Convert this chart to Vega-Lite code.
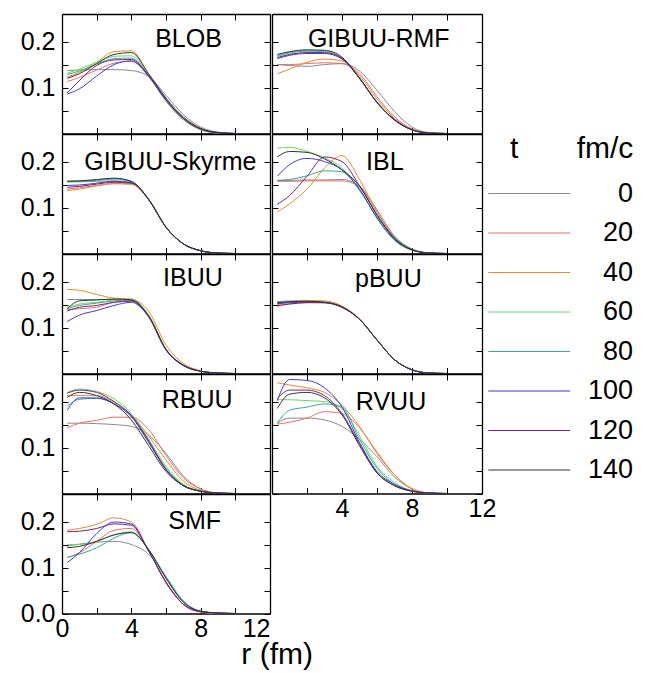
{
"$schema": "https://vega.github.io/schema/vega-lite/v6.json",
"padding": {"left": 20, "top": 13, "right": 0, "bottom": 0},
"title": {"text": "r (fm)", "orient": "bottom", "anchor": "middle", "fontSize": 30, "fontWeight": "normal", "font": "Liberation Sans", "color": "#000", "dx": -50, "offset": -2},
"config": {
 "font": "Liberation Sans",
 "view": {"stroke": null},
 "axis": {"grid": false, "domainColor": "#000", "domainWidth": 1.3, "tickColor": "#000", "tickWidth": 1, "tickSize": -6, "labelFontSize": 25, "labelColor": "#000", "labelFont": "Liberation Sans", "labelFlush": false, "labelOverlap": false, "labelPadding": 13},
 "line": {"strokeWidth": 1, "interpolate": "monotone"},
 "legend": {"orient": "none", "legendX": 423, "legendY": 120, "titleFontSize": 30, "titleFontWeight": "normal", "titleColor": "#000", "titleFont": "Liberation Sans", "labelFontSize": 27, "labelColor": "#000", "labelFont": "Liberation Sans", "labelAlign": "right", "labelOffset": 121, "symbolType": "M-1,0H7", "symbolSize": 420, "symbolStrokeWidth": 1.5, "rowPadding": 11.5, "titlePadding": 16, "padding": 0}
},
"datasets": {"curves": [
{"m":"BLOB","t":0,"r":0.3,"d":0.137},{"m":"BLOB","t":0,"r":1,"d":0.138},{"m":"BLOB","t":0,"r":2,"d":0.139},{"m":"BLOB","t":0,"r":3,"d":0.139},{"m":"BLOB","t":0,"r":4,"d":0.137},{"m":"BLOB","t":0,"r":5,"d":0.124},{"m":"BLOB","t":0,"r":6,"d":0.083},{"m":"BLOB","t":0,"r":7,"d":0.041},{"m":"BLOB","t":0,"r":8,"d":0.014},{"m":"BLOB","t":0,"r":9,"d":0.003},{"m":"BLOB","t":0,"r":10,"d":0},
{"m":"BLOB","t":20,"r":0.3,"d":0.113},{"m":"BLOB","t":20,"r":1,"d":0.122},{"m":"BLOB","t":20,"r":2,"d":0.138},{"m":"BLOB","t":20,"r":3,"d":0.153},{"m":"BLOB","t":20,"r":4,"d":0.157},{"m":"BLOB","t":20,"r":5,"d":0.127},{"m":"BLOB","t":20,"r":6,"d":0.074},{"m":"BLOB","t":20,"r":7,"d":0.033},{"m":"BLOB","t":20,"r":8,"d":0.010},{"m":"BLOB","t":20,"r":9,"d":0.002},{"m":"BLOB","t":20,"r":10,"d":0},
{"m":"BLOB","t":40,"r":0.3,"d":0.123},{"m":"BLOB","t":40,"r":1,"d":0.133},{"m":"BLOB","t":40,"r":2,"d":0.155},{"m":"BLOB","t":40,"r":3,"d":0.178},{"m":"BLOB","t":40,"r":4,"d":0.180},{"m":"BLOB","t":40,"r":5,"d":0.128},{"m":"BLOB","t":40,"r":6,"d":0.070},{"m":"BLOB","t":40,"r":7,"d":0.030},{"m":"BLOB","t":40,"r":8,"d":0.008},{"m":"BLOB","t":40,"r":9,"d":0.001},{"m":"BLOB","t":40,"r":10,"d":0},
{"m":"BLOB","t":60,"r":0.3,"d":0.131},{"m":"BLOB","t":60,"r":1,"d":0.140},{"m":"BLOB","t":60,"r":2,"d":0.155},{"m":"BLOB","t":60,"r":3,"d":0.168},{"m":"BLOB","t":60,"r":4,"d":0.169},{"m":"BLOB","t":60,"r":5,"d":0.126},{"m":"BLOB","t":60,"r":6,"d":0.071},{"m":"BLOB","t":60,"r":7,"d":0.031},{"m":"BLOB","t":60,"r":8,"d":0.009},{"m":"BLOB","t":60,"r":9,"d":0.001},{"m":"BLOB","t":60,"r":10,"d":0},
{"m":"BLOB","t":80,"r":0.3,"d":0.128},{"m":"BLOB","t":80,"r":1,"d":0.136},{"m":"BLOB","t":80,"r":2,"d":0.151},{"m":"BLOB","t":80,"r":3,"d":0.163},{"m":"BLOB","t":80,"r":4,"d":0.164},{"m":"BLOB","t":80,"r":5,"d":0.125},{"m":"BLOB","t":80,"r":6,"d":0.072},{"m":"BLOB","t":80,"r":7,"d":0.032},{"m":"BLOB","t":80,"r":8,"d":0.009},{"m":"BLOB","t":80,"r":9,"d":0.001},{"m":"BLOB","t":80,"r":10,"d":0},
{"m":"BLOB","t":100,"r":0.3,"d":0.086},{"m":"BLOB","t":100,"r":1,"d":0.097},{"m":"BLOB","t":100,"r":2,"d":0.125},{"m":"BLOB","t":100,"r":3,"d":0.150},{"m":"BLOB","t":100,"r":4,"d":0.158},{"m":"BLOB","t":100,"r":5,"d":0.124},{"m":"BLOB","t":100,"r":6,"d":0.073},{"m":"BLOB","t":100,"r":7,"d":0.033},{"m":"BLOB","t":100,"r":8,"d":0.010},{"m":"BLOB","t":100,"r":9,"d":0.002},{"m":"BLOB","t":100,"r":10,"d":0},
{"m":"BLOB","t":120,"r":0.3,"d":0.088},{"m":"BLOB","t":120,"r":1,"d":0.115},{"m":"BLOB","t":120,"r":2,"d":0.148},{"m":"BLOB","t":120,"r":3,"d":0.160},{"m":"BLOB","t":120,"r":4,"d":0.161},{"m":"BLOB","t":120,"r":5,"d":0.126},{"m":"BLOB","t":120,"r":6,"d":0.074},{"m":"BLOB","t":120,"r":7,"d":0.033},{"m":"BLOB","t":120,"r":8,"d":0.010},{"m":"BLOB","t":120,"r":9,"d":0.002},{"m":"BLOB","t":120,"r":10,"d":0},
{"m":"BLOB","t":140,"r":0.3,"d":0.120},{"m":"BLOB","t":140,"r":1,"d":0.130},{"m":"BLOB","t":140,"r":2,"d":0.152},{"m":"BLOB","t":140,"r":3,"d":0.172},{"m":"BLOB","t":140,"r":4,"d":0.176},{"m":"BLOB","t":140,"r":5,"d":0.130},{"m":"BLOB","t":140,"r":6,"d":0.077},{"m":"BLOB","t":140,"r":7,"d":0.036},{"m":"BLOB","t":140,"r":8,"d":0.011},{"m":"BLOB","t":140,"r":9,"d":0.002},{"m":"BLOB","t":140,"r":10,"d":0},
{"m":"GIBUU-RMF","t":0,"r":0.3,"d":0.150},{"m":"GIBUU-RMF","t":0,"r":1,"d":0.148},{"m":"GIBUU-RMF","t":0,"r":2,"d":0.146},{"m":"GIBUU-RMF","t":0,"r":3,"d":0.150},{"m":"GIBUU-RMF","t":0,"r":4,"d":0.152},{"m":"GIBUU-RMF","t":0,"r":5,"d":0.136},{"m":"GIBUU-RMF","t":0,"r":6,"d":0.094},{"m":"GIBUU-RMF","t":0,"r":7,"d":0.048},{"m":"GIBUU-RMF","t":0,"r":8,"d":0.014},{"m":"GIBUU-RMF","t":0,"r":9,"d":0.002},{"m":"GIBUU-RMF","t":0,"r":10,"d":0},
{"m":"GIBUU-RMF","t":20,"r":0.3,"d":0.150},{"m":"GIBUU-RMF","t":20,"r":1,"d":0.150},{"m":"GIBUU-RMF","t":20,"r":2,"d":0.152},{"m":"GIBUU-RMF","t":20,"r":3,"d":0.154},{"m":"GIBUU-RMF","t":20,"r":4,"d":0.152},{"m":"GIBUU-RMF","t":20,"r":5,"d":0.130},{"m":"GIBUU-RMF","t":20,"r":6,"d":0.080},{"m":"GIBUU-RMF","t":20,"r":7,"d":0.036},{"m":"GIBUU-RMF","t":20,"r":8,"d":0.010},{"m":"GIBUU-RMF","t":20,"r":9,"d":0.001},{"m":"GIBUU-RMF","t":20,"r":10,"d":0},
{"m":"GIBUU-RMF","t":40,"r":0.3,"d":0.130},{"m":"GIBUU-RMF","t":40,"r":1,"d":0.140},{"m":"GIBUU-RMF","t":40,"r":2,"d":0.155},{"m":"GIBUU-RMF","t":40,"r":3,"d":0.162},{"m":"GIBUU-RMF","t":40,"r":4,"d":0.158},{"m":"GIBUU-RMF","t":40,"r":5,"d":0.126},{"m":"GIBUU-RMF","t":40,"r":6,"d":0.075},{"m":"GIBUU-RMF","t":40,"r":7,"d":0.033},{"m":"GIBUU-RMF","t":40,"r":8,"d":0.009},{"m":"GIBUU-RMF","t":40,"r":9,"d":0.001},{"m":"GIBUU-RMF","t":40,"r":10,"d":0},
{"m":"GIBUU-RMF","t":60,"r":0.3,"d":0.170},{"m":"GIBUU-RMF","t":60,"r":1,"d":0.177},{"m":"GIBUU-RMF","t":60,"r":2,"d":0.181},{"m":"GIBUU-RMF","t":60,"r":3,"d":0.180},{"m":"GIBUU-RMF","t":60,"r":4,"d":0.165},{"m":"GIBUU-RMF","t":60,"r":5,"d":0.120},{"m":"GIBUU-RMF","t":60,"r":6,"d":0.068},{"m":"GIBUU-RMF","t":60,"r":7,"d":0.030},{"m":"GIBUU-RMF","t":60,"r":8,"d":0.008},{"m":"GIBUU-RMF","t":60,"r":9,"d":0.001},{"m":"GIBUU-RMF","t":60,"r":10,"d":0},
{"m":"GIBUU-RMF","t":80,"r":0.3,"d":0.168},{"m":"GIBUU-RMF","t":80,"r":1,"d":0.175},{"m":"GIBUU-RMF","t":80,"r":2,"d":0.179},{"m":"GIBUU-RMF","t":80,"r":3,"d":0.178},{"m":"GIBUU-RMF","t":80,"r":4,"d":0.163},{"m":"GIBUU-RMF","t":80,"r":5,"d":0.120},{"m":"GIBUU-RMF","t":80,"r":6,"d":0.068},{"m":"GIBUU-RMF","t":80,"r":7,"d":0.030},{"m":"GIBUU-RMF","t":80,"r":8,"d":0.008},{"m":"GIBUU-RMF","t":80,"r":9,"d":0.001},{"m":"GIBUU-RMF","t":80,"r":10,"d":0},
{"m":"GIBUU-RMF","t":100,"r":0.3,"d":0.163},{"m":"GIBUU-RMF","t":100,"r":1,"d":0.170},{"m":"GIBUU-RMF","t":100,"r":2,"d":0.174},{"m":"GIBUU-RMF","t":100,"r":3,"d":0.174},{"m":"GIBUU-RMF","t":100,"r":4,"d":0.162},{"m":"GIBUU-RMF","t":100,"r":5,"d":0.120},{"m":"GIBUU-RMF","t":100,"r":6,"d":0.068},{"m":"GIBUU-RMF","t":100,"r":7,"d":0.030},{"m":"GIBUU-RMF","t":100,"r":8,"d":0.008},{"m":"GIBUU-RMF","t":100,"r":9,"d":0.001},{"m":"GIBUU-RMF","t":100,"r":10,"d":0},
{"m":"GIBUU-RMF","t":120,"r":0.3,"d":0.165},{"m":"GIBUU-RMF","t":120,"r":1,"d":0.172},{"m":"GIBUU-RMF","t":120,"r":2,"d":0.176},{"m":"GIBUU-RMF","t":120,"r":3,"d":0.176},{"m":"GIBUU-RMF","t":120,"r":4,"d":0.163},{"m":"GIBUU-RMF","t":120,"r":5,"d":0.120},{"m":"GIBUU-RMF","t":120,"r":6,"d":0.068},{"m":"GIBUU-RMF","t":120,"r":7,"d":0.030},{"m":"GIBUU-RMF","t":120,"r":8,"d":0.008},{"m":"GIBUU-RMF","t":120,"r":9,"d":0.001},{"m":"GIBUU-RMF","t":120,"r":10,"d":0},
{"m":"GIBUU-RMF","t":140,"r":0.3,"d":0.172},{"m":"GIBUU-RMF","t":140,"r":1,"d":0.178},{"m":"GIBUU-RMF","t":140,"r":2,"d":0.182},{"m":"GIBUU-RMF","t":140,"r":3,"d":0.181},{"m":"GIBUU-RMF","t":140,"r":4,"d":0.166},{"m":"GIBUU-RMF","t":140,"r":5,"d":0.121},{"m":"GIBUU-RMF","t":140,"r":6,"d":0.067},{"m":"GIBUU-RMF","t":140,"r":7,"d":0.029},{"m":"GIBUU-RMF","t":140,"r":8,"d":0.008},{"m":"GIBUU-RMF","t":140,"r":9,"d":0.001},{"m":"GIBUU-RMF","t":140,"r":10,"d":0},
{"m":"GIBUU-Skyrme","t":0,"r":0.3,"d":0.156},{"m":"GIBUU-Skyrme","t":0,"r":1,"d":0.156},{"m":"GIBUU-Skyrme","t":0,"r":2,"d":0.157},{"m":"GIBUU-Skyrme","t":0,"r":3,"d":0.158},{"m":"GIBUU-Skyrme","t":0,"r":4,"d":0.155},{"m":"GIBUU-Skyrme","t":0,"r":5,"d":0.118},{"m":"GIBUU-Skyrme","t":0,"r":6,"d":0.057},{"m":"GIBUU-Skyrme","t":0,"r":7,"d":0.021},{"m":"GIBUU-Skyrme","t":0,"r":8,"d":0.006},{"m":"GIBUU-Skyrme","t":0,"r":9,"d":0.001},{"m":"GIBUU-Skyrme","t":0,"r":10,"d":0},
{"m":"GIBUU-Skyrme","t":20,"r":0.3,"d":0.140},{"m":"GIBUU-Skyrme","t":20,"r":1,"d":0.143},{"m":"GIBUU-Skyrme","t":20,"r":2,"d":0.148},{"m":"GIBUU-Skyrme","t":20,"r":3,"d":0.152},{"m":"GIBUU-Skyrme","t":20,"r":4,"d":0.151},{"m":"GIBUU-Skyrme","t":20,"r":5,"d":0.117},{"m":"GIBUU-Skyrme","t":20,"r":6,"d":0.057},{"m":"GIBUU-Skyrme","t":20,"r":7,"d":0.021},{"m":"GIBUU-Skyrme","t":20,"r":8,"d":0.006},{"m":"GIBUU-Skyrme","t":20,"r":9,"d":0.001},{"m":"GIBUU-Skyrme","t":20,"r":10,"d":0},
{"m":"GIBUU-Skyrme","t":40,"r":0.3,"d":0.137},{"m":"GIBUU-Skyrme","t":40,"r":1,"d":0.140},{"m":"GIBUU-Skyrme","t":40,"r":2,"d":0.147},{"m":"GIBUU-Skyrme","t":40,"r":3,"d":0.152},{"m":"GIBUU-Skyrme","t":40,"r":4,"d":0.151},{"m":"GIBUU-Skyrme","t":40,"r":5,"d":0.118},{"m":"GIBUU-Skyrme","t":40,"r":6,"d":0.058},{"m":"GIBUU-Skyrme","t":40,"r":7,"d":0.021},{"m":"GIBUU-Skyrme","t":40,"r":8,"d":0.006},{"m":"GIBUU-Skyrme","t":40,"r":9,"d":0.001},{"m":"GIBUU-Skyrme","t":40,"r":10,"d":0},
{"m":"GIBUU-Skyrme","t":60,"r":0.3,"d":0.158},{"m":"GIBUU-Skyrme","t":60,"r":1,"d":0.158},{"m":"GIBUU-Skyrme","t":60,"r":2,"d":0.160},{"m":"GIBUU-Skyrme","t":60,"r":3,"d":0.163},{"m":"GIBUU-Skyrme","t":60,"r":4,"d":0.157},{"m":"GIBUU-Skyrme","t":60,"r":5,"d":0.118},{"m":"GIBUU-Skyrme","t":60,"r":6,"d":0.057},{"m":"GIBUU-Skyrme","t":60,"r":7,"d":0.021},{"m":"GIBUU-Skyrme","t":60,"r":8,"d":0.006},{"m":"GIBUU-Skyrme","t":60,"r":9,"d":0.001},{"m":"GIBUU-Skyrme","t":60,"r":10,"d":0},
{"m":"GIBUU-Skyrme","t":80,"r":0.3,"d":0.156},{"m":"GIBUU-Skyrme","t":80,"r":1,"d":0.157},{"m":"GIBUU-Skyrme","t":80,"r":2,"d":0.159},{"m":"GIBUU-Skyrme","t":80,"r":3,"d":0.162},{"m":"GIBUU-Skyrme","t":80,"r":4,"d":0.156},{"m":"GIBUU-Skyrme","t":80,"r":5,"d":0.118},{"m":"GIBUU-Skyrme","t":80,"r":6,"d":0.057},{"m":"GIBUU-Skyrme","t":80,"r":7,"d":0.021},{"m":"GIBUU-Skyrme","t":80,"r":8,"d":0.006},{"m":"GIBUU-Skyrme","t":80,"r":9,"d":0.001},{"m":"GIBUU-Skyrme","t":80,"r":10,"d":0},
{"m":"GIBUU-Skyrme","t":100,"r":0.3,"d":0.148},{"m":"GIBUU-Skyrme","t":100,"r":1,"d":0.149},{"m":"GIBUU-Skyrme","t":100,"r":2,"d":0.153},{"m":"GIBUU-Skyrme","t":100,"r":3,"d":0.157},{"m":"GIBUU-Skyrme","t":100,"r":4,"d":0.154},{"m":"GIBUU-Skyrme","t":100,"r":5,"d":0.117},{"m":"GIBUU-Skyrme","t":100,"r":6,"d":0.057},{"m":"GIBUU-Skyrme","t":100,"r":7,"d":0.021},{"m":"GIBUU-Skyrme","t":100,"r":8,"d":0.006},{"m":"GIBUU-Skyrme","t":100,"r":9,"d":0.001},{"m":"GIBUU-Skyrme","t":100,"r":10,"d":0},
{"m":"GIBUU-Skyrme","t":120,"r":0.3,"d":0.144},{"m":"GIBUU-Skyrme","t":120,"r":1,"d":0.146},{"m":"GIBUU-Skyrme","t":120,"r":2,"d":0.151},{"m":"GIBUU-Skyrme","t":120,"r":3,"d":0.155},{"m":"GIBUU-Skyrme","t":120,"r":4,"d":0.153},{"m":"GIBUU-Skyrme","t":120,"r":5,"d":0.117},{"m":"GIBUU-Skyrme","t":120,"r":6,"d":0.057},{"m":"GIBUU-Skyrme","t":120,"r":7,"d":0.021},{"m":"GIBUU-Skyrme","t":120,"r":8,"d":0.006},{"m":"GIBUU-Skyrme","t":120,"r":9,"d":0.001},{"m":"GIBUU-Skyrme","t":120,"r":10,"d":0},
{"m":"GIBUU-Skyrme","t":140,"r":0.3,"d":0.157},{"m":"GIBUU-Skyrme","t":140,"r":1,"d":0.158},{"m":"GIBUU-Skyrme","t":140,"r":2,"d":0.161},{"m":"GIBUU-Skyrme","t":140,"r":3,"d":0.164},{"m":"GIBUU-Skyrme","t":140,"r":4,"d":0.157},{"m":"GIBUU-Skyrme","t":140,"r":5,"d":0.118},{"m":"GIBUU-Skyrme","t":140,"r":6,"d":0.057},{"m":"GIBUU-Skyrme","t":140,"r":7,"d":0.021},{"m":"GIBUU-Skyrme","t":140,"r":8,"d":0.006},{"m":"GIBUU-Skyrme","t":140,"r":9,"d":0.001},{"m":"GIBUU-Skyrme","t":140,"r":10,"d":0},
{"m":"IBL","t":0,"r":0.3,"d":0.159},{"m":"IBL","t":0,"r":1,"d":0.159},{"m":"IBL","t":0,"r":2,"d":0.160},{"m":"IBL","t":0,"r":3,"d":0.160},{"m":"IBL","t":0,"r":4,"d":0.161},{"m":"IBL","t":0,"r":5,"d":0.147},{"m":"IBL","t":0,"r":6,"d":0.095},{"m":"IBL","t":0,"r":7,"d":0.038},{"m":"IBL","t":0,"r":8,"d":0.010},{"m":"IBL","t":0,"r":9,"d":0.001},{"m":"IBL","t":0,"r":10,"d":0},
{"m":"IBL","t":20,"r":0.3,"d":0.157},{"m":"IBL","t":20,"r":1,"d":0.157},{"m":"IBL","t":20,"r":2,"d":0.158},{"m":"IBL","t":20,"r":3,"d":0.158},{"m":"IBL","t":20,"r":4,"d":0.158},{"m":"IBL","t":20,"r":5,"d":0.145},{"m":"IBL","t":20,"r":6,"d":0.090},{"m":"IBL","t":20,"r":7,"d":0.035},{"m":"IBL","t":20,"r":8,"d":0.009},{"m":"IBL","t":20,"r":9,"d":0.001},{"m":"IBL","t":20,"r":10,"d":0},
{"m":"IBL","t":40,"r":0.3,"d":0.090},{"m":"IBL","t":40,"r":1,"d":0.108},{"m":"IBL","t":40,"r":2,"d":0.140},{"m":"IBL","t":40,"r":3,"d":0.186},{"m":"IBL","t":40,"r":4,"d":0.213},{"m":"IBL","t":40,"r":5,"d":0.161},{"m":"IBL","t":40,"r":6,"d":0.091},{"m":"IBL","t":40,"r":7,"d":0.035},{"m":"IBL","t":40,"r":8,"d":0.007},{"m":"IBL","t":40,"r":9,"d":0.001},{"m":"IBL","t":40,"r":10,"d":0},
{"m":"IBL","t":60,"r":0.3,"d":0.229},{"m":"IBL","t":60,"r":1,"d":0.231},{"m":"IBL","t":60,"r":2,"d":0.222},{"m":"IBL","t":60,"r":3,"d":0.208},{"m":"IBL","t":60,"r":4,"d":0.186},{"m":"IBL","t":60,"r":5,"d":0.140},{"m":"IBL","t":60,"r":6,"d":0.077},{"m":"IBL","t":60,"r":7,"d":0.028},{"m":"IBL","t":60,"r":8,"d":0.007},{"m":"IBL","t":60,"r":9,"d":0.001},{"m":"IBL","t":60,"r":10,"d":0},
{"m":"IBL","t":80,"r":0.3,"d":0.159},{"m":"IBL","t":80,"r":1,"d":0.161},{"m":"IBL","t":80,"r":2,"d":0.169},{"m":"IBL","t":80,"r":3,"d":0.180},{"m":"IBL","t":80,"r":4,"d":0.178},{"m":"IBL","t":80,"r":5,"d":0.137},{"m":"IBL","t":80,"r":6,"d":0.080},{"m":"IBL","t":80,"r":7,"d":0.035},{"m":"IBL","t":80,"r":8,"d":0.009},{"m":"IBL","t":80,"r":9,"d":0.001},{"m":"IBL","t":80,"r":10,"d":0},
{"m":"IBL","t":100,"r":0.3,"d":0.168},{"m":"IBL","t":100,"r":1,"d":0.193},{"m":"IBL","t":100,"r":2,"d":0.207},{"m":"IBL","t":100,"r":3,"d":0.200},{"m":"IBL","t":100,"r":4,"d":0.182},{"m":"IBL","t":100,"r":5,"d":0.140},{"m":"IBL","t":100,"r":6,"d":0.077},{"m":"IBL","t":100,"r":7,"d":0.030},{"m":"IBL","t":100,"r":8,"d":0.008},{"m":"IBL","t":100,"r":9,"d":0.001},{"m":"IBL","t":100,"r":10,"d":0},
{"m":"IBL","t":120,"r":0.3,"d":0.107},{"m":"IBL","t":120,"r":1,"d":0.126},{"m":"IBL","t":120,"r":2,"d":0.168},{"m":"IBL","t":120,"r":3,"d":0.210},{"m":"IBL","t":120,"r":4,"d":0.200},{"m":"IBL","t":120,"r":5,"d":0.147},{"m":"IBL","t":120,"r":6,"d":0.084},{"m":"IBL","t":120,"r":7,"d":0.032},{"m":"IBL","t":120,"r":8,"d":0.008},{"m":"IBL","t":120,"r":9,"d":0.001},{"m":"IBL","t":120,"r":10,"d":0},
{"m":"IBL","t":140,"r":0.3,"d":0.210},{"m":"IBL","t":140,"r":1,"d":0.222},{"m":"IBL","t":140,"r":2,"d":0.220},{"m":"IBL","t":140,"r":3,"d":0.206},{"m":"IBL","t":140,"r":4,"d":0.182},{"m":"IBL","t":140,"r":5,"d":0.147},{"m":"IBL","t":140,"r":6,"d":0.084},{"m":"IBL","t":140,"r":7,"d":0.033},{"m":"IBL","t":140,"r":8,"d":0.008},{"m":"IBL","t":140,"r":9,"d":0.001},{"m":"IBL","t":140,"r":10,"d":0},
{"m":"IBUU","t":0,"r":0.3,"d":0.161},{"m":"IBUU","t":0,"r":1,"d":0.161},{"m":"IBUU","t":0,"r":2,"d":0.161},{"m":"IBUU","t":0,"r":3,"d":0.161},{"m":"IBUU","t":0,"r":4,"d":0.159},{"m":"IBUU","t":0,"r":5,"d":0.125},{"m":"IBUU","t":0,"r":6,"d":0.052},{"m":"IBUU","t":0,"r":7,"d":0.018},{"m":"IBUU","t":0,"r":8,"d":0.005},{"m":"IBUU","t":0,"r":9,"d":0.001},{"m":"IBUU","t":0,"r":10,"d":0},
{"m":"IBUU","t":20,"r":0.3,"d":0.139},{"m":"IBUU","t":20,"r":1,"d":0.141},{"m":"IBUU","t":20,"r":2,"d":0.144},{"m":"IBUU","t":20,"r":3,"d":0.155},{"m":"IBUU","t":20,"r":4,"d":0.157},{"m":"IBUU","t":20,"r":5,"d":0.125},{"m":"IBUU","t":20,"r":6,"d":0.053},{"m":"IBUU","t":20,"r":7,"d":0.018},{"m":"IBUU","t":20,"r":8,"d":0.005},{"m":"IBUU","t":20,"r":9,"d":0.001},{"m":"IBUU","t":20,"r":10,"d":0},
{"m":"IBUU","t":40,"r":0.3,"d":0.183},{"m":"IBUU","t":40,"r":1,"d":0.181},{"m":"IBUU","t":40,"r":2,"d":0.172},{"m":"IBUU","t":40,"r":3,"d":0.164},{"m":"IBUU","t":40,"r":4,"d":0.162},{"m":"IBUU","t":40,"r":5,"d":0.135},{"m":"IBUU","t":40,"r":6,"d":0.062},{"m":"IBUU","t":40,"r":7,"d":0.022},{"m":"IBUU","t":40,"r":8,"d":0.006},{"m":"IBUU","t":40,"r":9,"d":0.001},{"m":"IBUU","t":40,"r":10,"d":0},
{"m":"IBUU","t":60,"r":0.3,"d":0.144},{"m":"IBUU","t":60,"r":1,"d":0.151},{"m":"IBUU","t":60,"r":2,"d":0.155},{"m":"IBUU","t":60,"r":3,"d":0.160},{"m":"IBUU","t":60,"r":4,"d":0.162},{"m":"IBUU","t":60,"r":5,"d":0.127},{"m":"IBUU","t":60,"r":6,"d":0.053},{"m":"IBUU","t":60,"r":7,"d":0.018},{"m":"IBUU","t":60,"r":8,"d":0.005},{"m":"IBUU","t":60,"r":9,"d":0.001},{"m":"IBUU","t":60,"r":10,"d":0},
{"m":"IBUU","t":80,"r":0.3,"d":0.141},{"m":"IBUU","t":80,"r":1,"d":0.148},{"m":"IBUU","t":80,"r":2,"d":0.153},{"m":"IBUU","t":80,"r":3,"d":0.158},{"m":"IBUU","t":80,"r":4,"d":0.160},{"m":"IBUU","t":80,"r":5,"d":0.126},{"m":"IBUU","t":80,"r":6,"d":0.053},{"m":"IBUU","t":80,"r":7,"d":0.018},{"m":"IBUU","t":80,"r":8,"d":0.005},{"m":"IBUU","t":80,"r":9,"d":0.001},{"m":"IBUU","t":80,"r":10,"d":0},
{"m":"IBUU","t":100,"r":0.3,"d":0.113},{"m":"IBUU","t":100,"r":1,"d":0.127},{"m":"IBUU","t":100,"r":2,"d":0.137},{"m":"IBUU","t":100,"r":3,"d":0.148},{"m":"IBUU","t":100,"r":4,"d":0.155},{"m":"IBUU","t":100,"r":5,"d":0.123},{"m":"IBUU","t":100,"r":6,"d":0.051},{"m":"IBUU","t":100,"r":7,"d":0.017},{"m":"IBUU","t":100,"r":8,"d":0.005},{"m":"IBUU","t":100,"r":9,"d":0.001},{"m":"IBUU","t":100,"r":10,"d":0},
{"m":"IBUU","t":120,"r":0.3,"d":0.136},{"m":"IBUU","t":120,"r":1,"d":0.144},{"m":"IBUU","t":120,"r":2,"d":0.148},{"m":"IBUU","t":120,"r":3,"d":0.155},{"m":"IBUU","t":120,"r":4,"d":0.158},{"m":"IBUU","t":120,"r":5,"d":0.124},{"m":"IBUU","t":120,"r":6,"d":0.052},{"m":"IBUU","t":120,"r":7,"d":0.018},{"m":"IBUU","t":120,"r":8,"d":0.005},{"m":"IBUU","t":120,"r":9,"d":0.001},{"m":"IBUU","t":120,"r":10,"d":0},
{"m":"IBUU","t":140,"r":0.3,"d":0.141},{"m":"IBUU","t":140,"r":1,"d":0.158},{"m":"IBUU","t":140,"r":2,"d":0.160},{"m":"IBUU","t":140,"r":3,"d":0.162},{"m":"IBUU","t":140,"r":4,"d":0.160},{"m":"IBUU","t":140,"r":5,"d":0.125},{"m":"IBUU","t":140,"r":6,"d":0.052},{"m":"IBUU","t":140,"r":7,"d":0.018},{"m":"IBUU","t":140,"r":8,"d":0.005},{"m":"IBUU","t":140,"r":9,"d":0.001},{"m":"IBUU","t":140,"r":10,"d":0},
{"m":"pBUU","t":0,"r":0.3,"d":0.156},{"m":"pBUU","t":0,"r":1,"d":0.158},{"m":"pBUU","t":0,"r":2,"d":0.158},{"m":"pBUU","t":0,"r":3,"d":0.156},{"m":"pBUU","t":0,"r":4,"d":0.145},{"m":"pBUU","t":0,"r":5,"d":0.118},{"m":"pBUU","t":0,"r":6,"d":0.073},{"m":"pBUU","t":0,"r":7,"d":0.030},{"m":"pBUU","t":0,"r":8,"d":0.008},{"m":"pBUU","t":0,"r":9,"d":0.001},{"m":"pBUU","t":0,"r":10,"d":0},
{"m":"pBUU","t":20,"r":0.3,"d":0.146},{"m":"pBUU","t":20,"r":1,"d":0.152},{"m":"pBUU","t":20,"r":2,"d":0.155},{"m":"pBUU","t":20,"r":3,"d":0.155},{"m":"pBUU","t":20,"r":4,"d":0.144},{"m":"pBUU","t":20,"r":5,"d":0.118},{"m":"pBUU","t":20,"r":6,"d":0.073},{"m":"pBUU","t":20,"r":7,"d":0.030},{"m":"pBUU","t":20,"r":8,"d":0.008},{"m":"pBUU","t":20,"r":9,"d":0.001},{"m":"pBUU","t":20,"r":10,"d":0},
{"m":"pBUU","t":40,"r":0.3,"d":0.150},{"m":"pBUU","t":40,"r":1,"d":0.156},{"m":"pBUU","t":40,"r":2,"d":0.159},{"m":"pBUU","t":40,"r":3,"d":0.158},{"m":"pBUU","t":40,"r":4,"d":0.147},{"m":"pBUU","t":40,"r":5,"d":0.119},{"m":"pBUU","t":40,"r":6,"d":0.073},{"m":"pBUU","t":40,"r":7,"d":0.030},{"m":"pBUU","t":40,"r":8,"d":0.008},{"m":"pBUU","t":40,"r":9,"d":0.001},{"m":"pBUU","t":40,"r":10,"d":0},
{"m":"pBUU","t":60,"r":0.3,"d":0.153},{"m":"pBUU","t":60,"r":1,"d":0.155},{"m":"pBUU","t":60,"r":2,"d":0.156},{"m":"pBUU","t":60,"r":3,"d":0.155},{"m":"pBUU","t":60,"r":4,"d":0.145},{"m":"pBUU","t":60,"r":5,"d":0.118},{"m":"pBUU","t":60,"r":6,"d":0.073},{"m":"pBUU","t":60,"r":7,"d":0.030},{"m":"pBUU","t":60,"r":8,"d":0.008},{"m":"pBUU","t":60,"r":9,"d":0.001},{"m":"pBUU","t":60,"r":10,"d":0},
{"m":"pBUU","t":80,"r":0.3,"d":0.155},{"m":"pBUU","t":80,"r":1,"d":0.156},{"m":"pBUU","t":80,"r":2,"d":0.157},{"m":"pBUU","t":80,"r":3,"d":0.155},{"m":"pBUU","t":80,"r":4,"d":0.145},{"m":"pBUU","t":80,"r":5,"d":0.118},{"m":"pBUU","t":80,"r":6,"d":0.073},{"m":"pBUU","t":80,"r":7,"d":0.030},{"m":"pBUU","t":80,"r":8,"d":0.008},{"m":"pBUU","t":80,"r":9,"d":0.001},{"m":"pBUU","t":80,"r":10,"d":0},
{"m":"pBUU","t":100,"r":0.3,"d":0.152},{"m":"pBUU","t":100,"r":1,"d":0.154},{"m":"pBUU","t":100,"r":2,"d":0.155},{"m":"pBUU","t":100,"r":3,"d":0.154},{"m":"pBUU","t":100,"r":4,"d":0.144},{"m":"pBUU","t":100,"r":5,"d":0.118},{"m":"pBUU","t":100,"r":6,"d":0.073},{"m":"pBUU","t":100,"r":7,"d":0.030},{"m":"pBUU","t":100,"r":8,"d":0.008},{"m":"pBUU","t":100,"r":9,"d":0.001},{"m":"pBUU","t":100,"r":10,"d":0},
{"m":"pBUU","t":120,"r":0.3,"d":0.148},{"m":"pBUU","t":120,"r":1,"d":0.151},{"m":"pBUU","t":120,"r":2,"d":0.154},{"m":"pBUU","t":120,"r":3,"d":0.154},{"m":"pBUU","t":120,"r":4,"d":0.144},{"m":"pBUU","t":120,"r":5,"d":0.118},{"m":"pBUU","t":120,"r":6,"d":0.073},{"m":"pBUU","t":120,"r":7,"d":0.030},{"m":"pBUU","t":120,"r":8,"d":0.008},{"m":"pBUU","t":120,"r":9,"d":0.001},{"m":"pBUU","t":120,"r":10,"d":0},
{"m":"pBUU","t":140,"r":0.3,"d":0.154},{"m":"pBUU","t":140,"r":1,"d":0.156},{"m":"pBUU","t":140,"r":2,"d":0.157},{"m":"pBUU","t":140,"r":3,"d":0.155},{"m":"pBUU","t":140,"r":4,"d":0.145},{"m":"pBUU","t":140,"r":5,"d":0.118},{"m":"pBUU","t":140,"r":6,"d":0.073},{"m":"pBUU","t":140,"r":7,"d":0.030},{"m":"pBUU","t":140,"r":8,"d":0.008},{"m":"pBUU","t":140,"r":9,"d":0.001},{"m":"pBUU","t":140,"r":10,"d":0},
{"m":"RBUU","t":0,"r":0.3,"d":0.153},{"m":"RBUU","t":0,"r":1,"d":0.153},{"m":"RBUU","t":0,"r":2,"d":0.152},{"m":"RBUU","t":0,"r":3,"d":0.150},{"m":"RBUU","t":0,"r":4,"d":0.146},{"m":"RBUU","t":0,"r":5,"d":0.127},{"m":"RBUU","t":0,"r":6,"d":0.087},{"m":"RBUU","t":0,"r":7,"d":0.038},{"m":"RBUU","t":0,"r":8,"d":0.010},{"m":"RBUU","t":0,"r":9,"d":0.001},{"m":"RBUU","t":0,"r":10,"d":0},
{"m":"RBUU","t":20,"r":0.3,"d":0.143},{"m":"RBUU","t":20,"r":1,"d":0.153},{"m":"RBUU","t":20,"r":2,"d":0.159},{"m":"RBUU","t":20,"r":3,"d":0.166},{"m":"RBUU","t":20,"r":4,"d":0.166},{"m":"RBUU","t":20,"r":5,"d":0.139},{"m":"RBUU","t":20,"r":6,"d":0.083},{"m":"RBUU","t":20,"r":7,"d":0.034},{"m":"RBUU","t":20,"r":8,"d":0.010},{"m":"RBUU","t":20,"r":9,"d":0.001},{"m":"RBUU","t":20,"r":10,"d":0},
{"m":"RBUU","t":40,"r":0.3,"d":0.213},{"m":"RBUU","t":40,"r":1,"d":0.213},{"m":"RBUU","t":40,"r":2,"d":0.213},{"m":"RBUU","t":40,"r":3,"d":0.199},{"m":"RBUU","t":40,"r":4,"d":0.171},{"m":"RBUU","t":40,"r":5,"d":0.125},{"m":"RBUU","t":40,"r":6,"d":0.073},{"m":"RBUU","t":40,"r":7,"d":0.027},{"m":"RBUU","t":40,"r":8,"d":0.007},{"m":"RBUU","t":40,"r":9,"d":0.001},{"m":"RBUU","t":40,"r":10,"d":0},
{"m":"RBUU","t":60,"r":0.3,"d":0.220},{"m":"RBUU","t":60,"r":1,"d":0.227},{"m":"RBUU","t":60,"r":2,"d":0.222},{"m":"RBUU","t":60,"r":3,"d":0.206},{"m":"RBUU","t":60,"r":4,"d":0.174},{"m":"RBUU","t":60,"r":5,"d":0.118},{"m":"RBUU","t":60,"r":6,"d":0.059},{"m":"RBUU","t":60,"r":7,"d":0.020},{"m":"RBUU","t":60,"r":8,"d":0.006},{"m":"RBUU","t":60,"r":9,"d":0.001},{"m":"RBUU","t":60,"r":10,"d":0},
{"m":"RBUU","t":80,"r":0.3,"d":0.190},{"m":"RBUU","t":80,"r":1,"d":0.205},{"m":"RBUU","t":80,"r":2,"d":0.207},{"m":"RBUU","t":80,"r":3,"d":0.195},{"m":"RBUU","t":80,"r":4,"d":0.168},{"m":"RBUU","t":80,"r":5,"d":0.114},{"m":"RBUU","t":80,"r":6,"d":0.055},{"m":"RBUU","t":80,"r":7,"d":0.018},{"m":"RBUU","t":80,"r":8,"d":0.005},{"m":"RBUU","t":80,"r":9,"d":0.001},{"m":"RBUU","t":80,"r":10,"d":0},
{"m":"RBUU","t":100,"r":0.3,"d":0.181},{"m":"RBUU","t":100,"r":1,"d":0.208},{"m":"RBUU","t":100,"r":2,"d":0.208},{"m":"RBUU","t":100,"r":3,"d":0.195},{"m":"RBUU","t":100,"r":4,"d":0.167},{"m":"RBUU","t":100,"r":5,"d":0.111},{"m":"RBUU","t":100,"r":6,"d":0.052},{"m":"RBUU","t":100,"r":7,"d":0.017},{"m":"RBUU","t":100,"r":8,"d":0.005},{"m":"RBUU","t":100,"r":9,"d":0.001},{"m":"RBUU","t":100,"r":10,"d":0},
{"m":"RBUU","t":120,"r":0.3,"d":0.218},{"m":"RBUU","t":120,"r":1,"d":0.225},{"m":"RBUU","t":120,"r":2,"d":0.220},{"m":"RBUU","t":120,"r":3,"d":0.200},{"m":"RBUU","t":120,"r":4,"d":0.170},{"m":"RBUU","t":120,"r":5,"d":0.115},{"m":"RBUU","t":120,"r":6,"d":0.052},{"m":"RBUU","t":120,"r":7,"d":0.017},{"m":"RBUU","t":120,"r":8,"d":0.005},{"m":"RBUU","t":120,"r":9,"d":0.001},{"m":"RBUU","t":120,"r":10,"d":0},
{"m":"RBUU","t":140,"r":0.3,"d":0.209},{"m":"RBUU","t":140,"r":1,"d":0.220},{"m":"RBUU","t":140,"r":2,"d":0.213},{"m":"RBUU","t":140,"r":3,"d":0.195},{"m":"RBUU","t":140,"r":4,"d":0.160},{"m":"RBUU","t":140,"r":5,"d":0.104},{"m":"RBUU","t":140,"r":6,"d":0.048},{"m":"RBUU","t":140,"r":7,"d":0.017},{"m":"RBUU","t":140,"r":8,"d":0.005},{"m":"RBUU","t":140,"r":9,"d":0.001},{"m":"RBUU","t":140,"r":10,"d":0},
{"m":"RVUU","t":0,"r":0.3,"d":0.153},{"m":"RVUU","t":0,"r":1,"d":0.164},{"m":"RVUU","t":0,"r":2,"d":0.164},{"m":"RVUU","t":0,"r":3,"d":0.160},{"m":"RVUU","t":0,"r":4,"d":0.146},{"m":"RVUU","t":0,"r":5,"d":0.118},{"m":"RVUU","t":0,"r":6,"d":0.080},{"m":"RVUU","t":0,"r":7,"d":0.036},{"m":"RVUU","t":0,"r":8,"d":0.010},{"m":"RVUU","t":0,"r":9,"d":0.001},{"m":"RVUU","t":0,"r":10,"d":0},
{"m":"RVUU","t":20,"r":0.3,"d":0.151},{"m":"RVUU","t":20,"r":1,"d":0.155},{"m":"RVUU","t":20,"r":2,"d":0.164},{"m":"RVUU","t":20,"r":3,"d":0.178},{"m":"RVUU","t":20,"r":4,"d":0.174},{"m":"RVUU","t":20,"r":5,"d":0.143},{"m":"RVUU","t":20,"r":6,"d":0.090},{"m":"RVUU","t":20,"r":7,"d":0.041},{"m":"RVUU","t":20,"r":8,"d":0.010},{"m":"RVUU","t":20,"r":9,"d":0.001},{"m":"RVUU","t":20,"r":10,"d":0},
{"m":"RVUU","t":40,"r":0.3,"d":0.241},{"m":"RVUU","t":40,"r":1,"d":0.236},{"m":"RVUU","t":40,"r":2,"d":0.230},{"m":"RVUU","t":40,"r":3,"d":0.220},{"m":"RVUU","t":40,"r":4,"d":0.192},{"m":"RVUU","t":40,"r":5,"d":0.146},{"m":"RVUU","t":40,"r":6,"d":0.087},{"m":"RVUU","t":40,"r":7,"d":0.041},{"m":"RVUU","t":40,"r":8,"d":0.010},{"m":"RVUU","t":40,"r":9,"d":0.001},{"m":"RVUU","t":40,"r":10,"d":0},
{"m":"RVUU","t":60,"r":0.3,"d":0.204},{"m":"RVUU","t":60,"r":1,"d":0.204},{"m":"RVUU","t":60,"r":2,"d":0.202},{"m":"RVUU","t":60,"r":3,"d":0.200},{"m":"RVUU","t":60,"r":4,"d":0.185},{"m":"RVUU","t":60,"r":5,"d":0.125},{"m":"RVUU","t":60,"r":6,"d":0.059},{"m":"RVUU","t":60,"r":7,"d":0.024},{"m":"RVUU","t":60,"r":8,"d":0.006},{"m":"RVUU","t":60,"r":9,"d":0.001},{"m":"RVUU","t":60,"r":10,"d":0},
{"m":"RVUU","t":80,"r":0.3,"d":0.153},{"m":"RVUU","t":80,"r":1,"d":0.181},{"m":"RVUU","t":80,"r":2,"d":0.188},{"m":"RVUU","t":80,"r":3,"d":0.195},{"m":"RVUU","t":80,"r":4,"d":0.188},{"m":"RVUU","t":80,"r":5,"d":0.118},{"m":"RVUU","t":80,"r":6,"d":0.055},{"m":"RVUU","t":80,"r":7,"d":0.020},{"m":"RVUU","t":80,"r":8,"d":0.005},{"m":"RVUU","t":80,"r":9,"d":0.001},{"m":"RVUU","t":80,"r":10,"d":0},
{"m":"RVUU","t":100,"r":0.3,"d":0.202},{"m":"RVUU","t":100,"r":1,"d":0.248},{"m":"RVUU","t":100,"r":2,"d":0.246},{"m":"RVUU","t":100,"r":3,"d":0.230},{"m":"RVUU","t":100,"r":4,"d":0.188},{"m":"RVUU","t":100,"r":5,"d":0.111},{"m":"RVUU","t":100,"r":6,"d":0.048},{"m":"RVUU","t":100,"r":7,"d":0.020},{"m":"RVUU","t":100,"r":8,"d":0.006},{"m":"RVUU","t":100,"r":9,"d":0.001},{"m":"RVUU","t":100,"r":10,"d":0},
{"m":"RVUU","t":120,"r":0.3,"d":0.206},{"m":"RVUU","t":120,"r":1,"d":0.225},{"m":"RVUU","t":120,"r":2,"d":0.225},{"m":"RVUU","t":120,"r":3,"d":0.213},{"m":"RVUU","t":120,"r":4,"d":0.174},{"m":"RVUU","t":120,"r":5,"d":0.108},{"m":"RVUU","t":120,"r":6,"d":0.045},{"m":"RVUU","t":120,"r":7,"d":0.017},{"m":"RVUU","t":120,"r":8,"d":0.005},{"m":"RVUU","t":120,"r":9,"d":0.001},{"m":"RVUU","t":120,"r":10,"d":0},
{"m":"RVUU","t":140,"r":0.3,"d":0.185},{"m":"RVUU","t":140,"r":1,"d":0.216},{"m":"RVUU","t":140,"r":2,"d":0.220},{"m":"RVUU","t":140,"r":3,"d":0.208},{"m":"RVUU","t":140,"r":4,"d":0.171},{"m":"RVUU","t":140,"r":5,"d":0.104},{"m":"RVUU","t":140,"r":6,"d":0.045},{"m":"RVUU","t":140,"r":7,"d":0.017},{"m":"RVUU","t":140,"r":8,"d":0.005},{"m":"RVUU","t":140,"r":9,"d":0.001},{"m":"RVUU","t":140,"r":10,"d":0},
{"m":"SMF","t":0,"r":0.3,"d":0.146},{"m":"SMF","t":0,"r":1,"d":0.151},{"m":"SMF","t":0,"r":2,"d":0.155},{"m":"SMF","t":0,"r":3,"d":0.157},{"m":"SMF","t":0,"r":4,"d":0.150},{"m":"SMF","t":0,"r":5,"d":0.129},{"m":"SMF","t":0,"r":6,"d":0.080},{"m":"SMF","t":0,"r":7,"d":0.027},{"m":"SMF","t":0,"r":8,"d":0.005},{"m":"SMF","t":0,"r":9,"d":0.001},{"m":"SMF","t":0,"r":10,"d":0},
{"m":"SMF","t":20,"r":0.3,"d":0.122},{"m":"SMF","t":20,"r":1,"d":0.132},{"m":"SMF","t":20,"r":2,"d":0.157},{"m":"SMF","t":20,"r":3,"d":0.181},{"m":"SMF","t":20,"r":4,"d":0.185},{"m":"SMF","t":20,"r":5,"d":0.136},{"m":"SMF","t":20,"r":6,"d":0.066},{"m":"SMF","t":20,"r":7,"d":0.020},{"m":"SMF","t":20,"r":8,"d":0.004},{"m":"SMF","t":20,"r":9,"d":0.001},{"m":"SMF","t":20,"r":10,"d":0},
{"m":"SMF","t":40,"r":0.3,"d":0.181},{"m":"SMF","t":40,"r":1,"d":0.185},{"m":"SMF","t":40,"r":2,"d":0.194},{"m":"SMF","t":40,"r":3,"d":0.208},{"m":"SMF","t":40,"r":4,"d":0.199},{"m":"SMF","t":40,"r":5,"d":0.136},{"m":"SMF","t":40,"r":6,"d":0.069},{"m":"SMF","t":40,"r":7,"d":0.020},{"m":"SMF","t":40,"r":8,"d":0.003},{"m":"SMF","t":40,"r":9,"d":0},{"m":"SMF","t":40,"r":10,"d":0},
{"m":"SMF","t":60,"r":0.3,"d":0.150},{"m":"SMF","t":60,"r":1,"d":0.150},{"m":"SMF","t":60,"r":2,"d":0.157},{"m":"SMF","t":60,"r":3,"d":0.171},{"m":"SMF","t":60,"r":4,"d":0.178},{"m":"SMF","t":60,"r":5,"d":0.139},{"m":"SMF","t":60,"r":6,"d":0.076},{"m":"SMF","t":60,"r":7,"d":0.024},{"m":"SMF","t":60,"r":8,"d":0.005},{"m":"SMF","t":60,"r":9,"d":0.001},{"m":"SMF","t":60,"r":10,"d":0},
{"m":"SMF","t":80,"r":0.3,"d":0.122},{"m":"SMF","t":80,"r":1,"d":0.129},{"m":"SMF","t":80,"r":2,"d":0.143},{"m":"SMF","t":80,"r":3,"d":0.164},{"m":"SMF","t":80,"r":4,"d":0.176},{"m":"SMF","t":80,"r":5,"d":0.139},{"m":"SMF","t":80,"r":6,"d":0.080},{"m":"SMF","t":80,"r":7,"d":0.027},{"m":"SMF","t":80,"r":8,"d":0.005},{"m":"SMF","t":80,"r":9,"d":0.001},{"m":"SMF","t":80,"r":10,"d":0},
{"m":"SMF","t":100,"r":0.3,"d":0.111},{"m":"SMF","t":100,"r":1,"d":0.132},{"m":"SMF","t":100,"r":2,"d":0.174},{"m":"SMF","t":100,"r":3,"d":0.199},{"m":"SMF","t":100,"r":4,"d":0.195},{"m":"SMF","t":100,"r":5,"d":0.136},{"m":"SMF","t":100,"r":6,"d":0.068},{"m":"SMF","t":100,"r":7,"d":0.020},{"m":"SMF","t":100,"r":8,"d":0.004},{"m":"SMF","t":100,"r":9,"d":0.001},{"m":"SMF","t":100,"r":10,"d":0},
{"m":"SMF","t":120,"r":0.3,"d":0.178},{"m":"SMF","t":120,"r":1,"d":0.179},{"m":"SMF","t":120,"r":2,"d":0.185},{"m":"SMF","t":120,"r":3,"d":0.195},{"m":"SMF","t":120,"r":4,"d":0.192},{"m":"SMF","t":120,"r":5,"d":0.136},{"m":"SMF","t":120,"r":6,"d":0.068},{"m":"SMF","t":120,"r":7,"d":0.020},{"m":"SMF","t":120,"r":8,"d":0.004},{"m":"SMF","t":120,"r":9,"d":0.001},{"m":"SMF","t":120,"r":10,"d":0},
{"m":"SMF","t":140,"r":0.3,"d":0.143},{"m":"SMF","t":140,"r":1,"d":0.146},{"m":"SMF","t":140,"r":2,"d":0.157},{"m":"SMF","t":140,"r":3,"d":0.171},{"m":"SMF","t":140,"r":4,"d":0.176},{"m":"SMF","t":140,"r":5,"d":0.139},{"m":"SMF","t":140,"r":6,"d":0.077},{"m":"SMF","t":140,"r":7,"d":0.025},{"m":"SMF","t":140,"r":8,"d":0.005},{"m":"SMF","t":140,"r":9,"d":0.001},{"m":"SMF","t":140,"r":10,"d":0}
]},
"spacing": 0,
"hconcat": [
{"vconcat": [
 {"width": 208, "height": 119.5, "data": {"name": "curves"}, "resolve": {"axis": {"x": "independent", "y": "independent"}},
  "layer": [
   {"transform": [{"filter": "datum.m === 'BLOB'"}], "mark": "line",
    "encoding": {
     "x": {"field": "r", "type": "quantitative", "scale": {"domain": [0, 12]}, "axis": {"orient": "bottom", "values": [0,2,4,6,8,10,12], "labels": false, "title": null}},
     "y": {"field": "d", "type": "quantitative", "scale": {"domain": [0, 0.25]}, "axis": {"orient": "left", "values": [0,0.05,0.1,0.15,0.2], "format": ".1f", "labelExpr": "datum.value == 0.1 || datum.value == 0.2 ? datum.label : ''", "title": null}},
     "color": {"field": "t", "type": "ordinal", "scale": {"domain": [0,20,40,60,80,100,120,140], "range": ["#8a8a8a","#ef6b6b","#e8892a","#5fdc5f","#3aa898","#3a3ae0","#7a1f7a","#333333"]}, "title": "\u200b\u00a0\u00a0\u00a0t\u00a0\u00a0\u00a0\u00a0\u00a0\u00a0\u00a0fm/c"}}},
   {"data": {"values": [{"name": "BLOB"}]}, "mark": {"type": "text", "fontSize": 25, "color": "#000", "baseline": "middle"},
    "encoding": {"text": {"field": "name"},
     "x": {"datum": 7.3, "type": "quantitative", "axis": {"orient": "top", "values": [0,2,4,6,8,10,12], "labels": false, "title": null}},
     "y": {"datum": 0.206, "type": "quantitative", "axis": {"orient": "right", "values": [0,0.05,0.1,0.15,0.2], "labels": false, "title": null}}}}
  ]},
 {"width": 208, "height": 119.5, "data": {"name": "curves"}, "resolve": {"axis": {"x": "independent", "y": "independent"}},
  "layer": [
   {"transform": [{"filter": "datum.m === 'GIBUU-Skyrme'"}], "mark": "line",
    "encoding": {
     "x": {"field": "r", "type": "quantitative", "scale": {"domain": [0, 12]}, "axis": {"orient": "bottom", "values": [0,2,4,6,8,10,12], "labels": false, "title": null}},
     "y": {"field": "d", "type": "quantitative", "scale": {"domain": [0, 0.25]}, "axis": {"orient": "left", "values": [0,0.05,0.1,0.15,0.2], "format": ".1f", "labelExpr": "datum.value == 0.1 || datum.value == 0.2 ? datum.label : ''", "title": null}},
     "color": {"field": "t", "type": "ordinal", "scale": {"domain": [0,20,40,60,80,100,120,140], "range": ["#8a8a8a","#ef6b6b","#e8892a","#5fdc5f","#3aa898","#3a3ae0","#7a1f7a","#333333"]}, "title": "\u200b\u00a0\u00a0\u00a0t\u00a0\u00a0\u00a0\u00a0\u00a0\u00a0\u00a0fm/c"}}},
   {"data": {"values": [{"name": "GIBUU-Skyrme"}]}, "mark": {"type": "text", "fontSize": 25, "color": "#000", "baseline": "middle"},
    "encoding": {"text": {"field": "name"},
     "x": {"datum": 6.25, "type": "quantitative", "axis": {"orient": "top", "values": [0,2,4,6,8,10,12], "labels": false, "title": null}},
     "y": {"datum": 0.2, "type": "quantitative", "axis": {"orient": "right", "values": [0,0.05,0.1,0.15,0.2], "labels": false, "title": null}}}}
  ]},
 {"width": 208, "height": 119.5, "data": {"name": "curves"}, "resolve": {"axis": {"x": "independent", "y": "independent"}},
  "layer": [
   {"transform": [{"filter": "datum.m === 'IBUU'"}], "mark": "line",
    "encoding": {
     "x": {"field": "r", "type": "quantitative", "scale": {"domain": [0, 12]}, "axis": {"orient": "bottom", "values": [0,2,4,6,8,10,12], "labels": false, "title": null}},
     "y": {"field": "d", "type": "quantitative", "scale": {"domain": [0, 0.25]}, "axis": {"orient": "left", "values": [0,0.05,0.1,0.15,0.2], "format": ".1f", "labelExpr": "datum.value == 0.1 || datum.value == 0.2 ? datum.label : ''", "title": null}},
     "color": {"field": "t", "type": "ordinal", "scale": {"domain": [0,20,40,60,80,100,120,140], "range": ["#8a8a8a","#ef6b6b","#e8892a","#5fdc5f","#3aa898","#3a3ae0","#7a1f7a","#333333"]}, "title": "\u200b\u00a0\u00a0\u00a0t\u00a0\u00a0\u00a0\u00a0\u00a0\u00a0\u00a0fm/c"}}},
   {"data": {"values": [{"name": "IBUU"}]}, "mark": {"type": "text", "fontSize": 25, "color": "#000", "baseline": "middle"},
    "encoding": {"text": {"field": "name"},
     "x": {"datum": 7.55, "type": "quantitative", "axis": {"orient": "top", "values": [0,2,4,6,8,10,12], "labels": false, "title": null}},
     "y": {"datum": 0.207, "type": "quantitative", "axis": {"orient": "right", "values": [0,0.05,0.1,0.15,0.2], "labels": false, "title": null}}}}
  ]},
 {"width": 208, "height": 119.5, "data": {"name": "curves"}, "resolve": {"axis": {"x": "independent", "y": "independent"}},
  "layer": [
   {"transform": [{"filter": "datum.m === 'RBUU'"}], "mark": "line",
    "encoding": {
     "x": {"field": "r", "type": "quantitative", "scale": {"domain": [0, 12]}, "axis": {"orient": "bottom", "values": [0,2,4,6,8,10,12], "labels": false, "title": null}},
     "y": {"field": "d", "type": "quantitative", "scale": {"domain": [0, 0.25]}, "axis": {"orient": "left", "values": [0,0.05,0.1,0.15,0.2], "format": ".1f", "labelExpr": "datum.value == 0.1 || datum.value == 0.2 ? datum.label : ''", "title": null}},
     "color": {"field": "t", "type": "ordinal", "scale": {"domain": [0,20,40,60,80,100,120,140], "range": ["#8a8a8a","#ef6b6b","#e8892a","#5fdc5f","#3aa898","#3a3ae0","#7a1f7a","#333333"]}, "title": "\u200b\u00a0\u00a0\u00a0t\u00a0\u00a0\u00a0\u00a0\u00a0\u00a0\u00a0fm/c"}}},
   {"data": {"values": [{"name": "RBUU"}]}, "mark": {"type": "text", "fontSize": 25, "color": "#000", "baseline": "middle"},
    "encoding": {"text": {"field": "name"},
     "x": {"datum": 7.8, "type": "quantitative", "axis": {"orient": "top", "values": [0,2,4,6,8,10,12], "labels": false, "title": null}},
     "y": {"datum": 0.203, "type": "quantitative", "axis": {"orient": "right", "values": [0,0.05,0.1,0.15,0.2], "labels": false, "title": null}}}}
  ]},
 {"width": 208, "height": 119.5, "data": {"name": "curves"}, "resolve": {"axis": {"x": "independent", "y": "independent"}},
  "layer": [
   {"transform": [{"filter": "datum.m === 'SMF'"}], "mark": "line",
    "encoding": {
     "x": {"field": "r", "type": "quantitative", "scale": {"domain": [0, 12]}, "axis": {"orient": "bottom", "values": [0,2,4,6,8,10,12], "format": "d", "labelExpr": "datum.value % 4 == 0 ? datum.label : ''", "labelAlign": {"condition": {"test": "datum.value == 12", "value": "right"}, "value": "center"}, "labelPadding": 9, "title": null}},
     "y": {"field": "d", "type": "quantitative", "scale": {"domain": [0, 0.25]}, "axis": {"orient": "left", "values": [0,0.05,0.1,0.15,0.2], "format": ".1f", "labelExpr": "datum.value == 0.05 || datum.value == 0.15 ? '' : datum.label", "title": null}},
     "color": {"field": "t", "type": "ordinal", "scale": {"domain": [0,20,40,60,80,100,120,140], "range": ["#8a8a8a","#ef6b6b","#e8892a","#5fdc5f","#3aa898","#3a3ae0","#7a1f7a","#333333"]}, "title": "\u200b\u00a0\u00a0\u00a0t\u00a0\u00a0\u00a0\u00a0\u00a0\u00a0\u00a0fm/c"}}},
   {"data": {"values": [{"name": "SMF"}]}, "mark": {"type": "text", "fontSize": 25, "color": "#000", "baseline": "middle"},
    "encoding": {"text": {"field": "name"},
     "x": {"datum": 7.65, "type": "quantitative", "axis": {"orient": "top", "values": [0,2,4,6,8,10,12], "labels": false, "title": null}},
     "y": {"datum": 0.201, "type": "quantitative", "axis": {"orient": "right", "values": [0,0.05,0.1,0.15,0.2], "labels": false, "title": null}}}}
  ]}
], "spacing": 0, "bounds": "flush"},
{"vconcat": [
 {"width": 210, "height": 119.5, "data": {"name": "curves"}, "resolve": {"axis": {"x": "independent", "y": "independent"}},
  "layer": [
   {"transform": [{"filter": "datum.m === 'GIBUU-RMF'"}], "mark": "line",
    "encoding": {
     "x": {"field": "r", "type": "quantitative", "scale": {"domain": [0, 12]}, "axis": {"orient": "bottom", "values": [0,2,4,6,8,10,12], "labels": false, "title": null}},
     "y": {"field": "d", "type": "quantitative", "scale": {"domain": [0, 0.25]}, "axis": {"orient": "left", "values": [0,0.05,0.1,0.15,0.2], "labels": false, "title": null}},
     "color": {"field": "t", "type": "ordinal", "scale": {"domain": [0,20,40,60,80,100,120,140], "range": ["#8a8a8a","#ef6b6b","#e8892a","#5fdc5f","#3aa898","#3a3ae0","#7a1f7a","#333333"]}, "title": "\u200b\u00a0\u00a0\u00a0t\u00a0\u00a0\u00a0\u00a0\u00a0\u00a0\u00a0fm/c"}}},
   {"data": {"values": [{"name": "GIBUU-RMF"}]}, "mark": {"type": "text", "fontSize": 25, "color": "#000", "baseline": "middle"},
    "encoding": {"text": {"field": "name"},
     "x": {"datum": 6.1, "type": "quantitative", "axis": {"orient": "top", "values": [0,2,4,6,8,10,12], "labels": false, "title": null}},
     "y": {"datum": 0.206, "type": "quantitative", "axis": {"orient": "right", "values": [0,0.05,0.1,0.15,0.2], "labels": false, "title": null}}}}
  ]},
 {"width": 210, "height": 119.5, "data": {"name": "curves"}, "resolve": {"axis": {"x": "independent", "y": "independent"}},
  "layer": [
   {"transform": [{"filter": "datum.m === 'IBL'"}], "mark": "line",
    "encoding": {
     "x": {"field": "r", "type": "quantitative", "scale": {"domain": [0, 12]}, "axis": {"orient": "bottom", "values": [0,2,4,6,8,10,12], "labels": false, "title": null}},
     "y": {"field": "d", "type": "quantitative", "scale": {"domain": [0, 0.25]}, "axis": {"orient": "left", "values": [0,0.05,0.1,0.15,0.2], "labels": false, "title": null}},
     "color": {"field": "t", "type": "ordinal", "scale": {"domain": [0,20,40,60,80,100,120,140], "range": ["#8a8a8a","#ef6b6b","#e8892a","#5fdc5f","#3aa898","#3a3ae0","#7a1f7a","#333333"]}, "title": "\u200b\u00a0\u00a0\u00a0t\u00a0\u00a0\u00a0\u00a0\u00a0\u00a0\u00a0fm/c"}}},
   {"data": {"values": [{"name": "IBL"}]}, "mark": {"type": "text", "fontSize": 25, "color": "#000", "baseline": "middle"},
    "encoding": {"text": {"field": "name"},
     "x": {"datum": 6.45, "type": "quantitative", "axis": {"orient": "top", "values": [0,2,4,6,8,10,12], "labels": false, "title": null}},
     "y": {"datum": 0.2, "type": "quantitative", "axis": {"orient": "right", "values": [0,0.05,0.1,0.15,0.2], "labels": false, "title": null}}}}
  ]},
 {"width": 210, "height": 119.5, "data": {"name": "curves"}, "resolve": {"axis": {"x": "independent", "y": "independent"}},
  "layer": [
   {"transform": [{"filter": "datum.m === 'pBUU'"}], "mark": "line",
    "encoding": {
     "x": {"field": "r", "type": "quantitative", "scale": {"domain": [0, 12]}, "axis": {"orient": "bottom", "values": [0,2,4,6,8,10,12], "labels": false, "title": null}},
     "y": {"field": "d", "type": "quantitative", "scale": {"domain": [0, 0.25]}, "axis": {"orient": "left", "values": [0,0.05,0.1,0.15,0.2], "labels": false, "title": null}},
     "color": {"field": "t", "type": "ordinal", "scale": {"domain": [0,20,40,60,80,100,120,140], "range": ["#8a8a8a","#ef6b6b","#e8892a","#5fdc5f","#3aa898","#3a3ae0","#7a1f7a","#333333"]}, "title": "\u200b\u00a0\u00a0\u00a0t\u00a0\u00a0\u00a0\u00a0\u00a0\u00a0\u00a0fm/c"}}},
   {"data": {"values": [{"name": "pBUU"}]}, "mark": {"type": "text", "fontSize": 25, "color": "#000", "baseline": "middle"},
    "encoding": {"text": {"field": "name"},
     "x": {"datum": 6.65, "type": "quantitative", "axis": {"orient": "top", "values": [0,2,4,6,8,10,12], "labels": false, "title": null}},
     "y": {"datum": 0.206, "type": "quantitative", "axis": {"orient": "right", "values": [0,0.05,0.1,0.15,0.2], "labels": false, "title": null}}}}
  ]},
 {"width": 210, "height": 119.5, "data": {"name": "curves"}, "resolve": {"axis": {"x": "independent", "y": "independent"}},
  "layer": [
   {"transform": [{"filter": "datum.m === 'RVUU'"}], "mark": "line",
    "encoding": {
     "x": {"field": "r", "type": "quantitative", "scale": {"domain": [0, 12]}, "axis": {"orient": "bottom", "values": [0,2,4,6,8,10,12], "format": "d", "labelExpr": "datum.value % 4 == 0 && datum.value > 0 ? datum.label : ''", "labelPadding": 9, "title": null}},
     "y": {"field": "d", "type": "quantitative", "scale": {"domain": [0, 0.25]}, "axis": {"orient": "left", "values": [0,0.05,0.1,0.15,0.2], "labels": false, "title": null}},
     "color": {"field": "t", "type": "ordinal", "scale": {"domain": [0,20,40,60,80,100,120,140], "range": ["#8a8a8a","#ef6b6b","#e8892a","#5fdc5f","#3aa898","#3a3ae0","#7a1f7a","#333333"]}, "title": "\u200b\u00a0\u00a0\u00a0t\u00a0\u00a0\u00a0\u00a0\u00a0\u00a0\u00a0fm/c"}}},
   {"data": {"values": [{"name": "RVUU"}]}, "mark": {"type": "text", "fontSize": 25, "color": "#000", "baseline": "middle"},
    "encoding": {"text": {"field": "name"},
     "x": {"datum": 6.8, "type": "quantitative", "axis": {"orient": "top", "values": [0,2,4,6,8,10,12], "labels": false, "title": null}},
     "y": {"datum": 0.2, "type": "quantitative", "axis": {"orient": "right", "values": [0,0.05,0.1,0.15,0.2], "labels": false, "title": null}}}}
  ]}
], "spacing": 0, "bounds": "flush"}
]
}
